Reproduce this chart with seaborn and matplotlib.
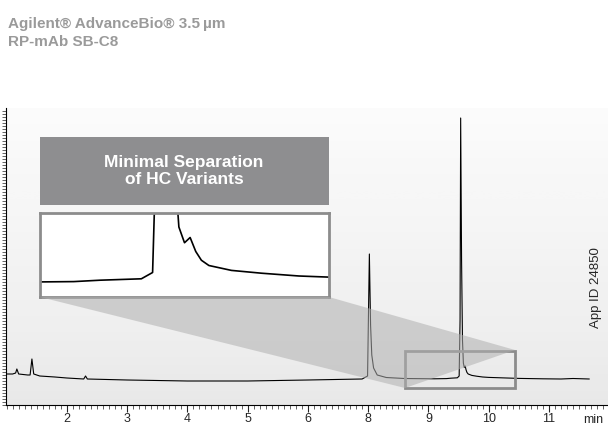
import numpy as np
import matplotlib
matplotlib.use("Agg")
import matplotlib.pyplot as plt
import seaborn as sns
import pandas as pd
from matplotlib.patches import Rectangle, Polygon

sns.set_style("white")
plt.rcParams['font.family'] = ['Liberation Sans', 'DejaVu Sans']

time = [1.0, 1.1, 1.15, 1.17, 1.2, 1.35, 1.39, 1.42, 1.45, 1.55, 1.8, 2.0, 2.28, 2.31, 2.34, 3.0, 4.0,
        5.0, 6.0, 6.9, 6.99, 7.02, 7.04, 7.06, 7.09, 7.15, 7.3, 7.6, 8.1, 8.3, 8.37, 8.48, 8.51, 8.525,
        8.535, 8.55, 8.565, 8.58, 8.595, 8.61, 8.625, 8.64, 8.66, 8.72, 8.8, 8.9, 9.0, 9.2, 9.5,
        9.9, 10.2, 10.4, 10.67]
signal = [6, 6, 7, 11, 6, 5, 5, 21, 6, 4, 3, 2, 1, 4, 1, 0, -1,
          -1, 0, 1, 4, 126, 55, 25, 12, 5, 2.5, 1.5, 1.2, 1.4, 1.8, 2.2, 4, 60,
          262, 120, 40, 17, 12.5, 14, 10, 7.5, 6, 4.6, 3.8, 3.0, 2.6, 2.2, 1.6,
          1.2, 1, 1.5, 1]
df = pd.DataFrame({"time": time, "signal": signal})
tick_pos = [2, 3, 4, 5, 6, 7, 8, 9, 10]
tick_labels = ['2', '3', '4', '5', '6', '8', '9', '10', '11']

fig = plt.figure(figsize=(6.08, 4.33), dpi=100)
W, H = 608, 433
ax = fig.add_axes([6/W, 1-405/H, 602/W, (405-108)/H])
xlim = (0.99, 10.98); ylim = (-25, 272)
grad = np.linspace(1, 0, 256).reshape(-1, 1)
ax.imshow(grad, extent=[*xlim, *ylim], aspect='auto', cmap='Greys', vmin=-0.2, vmax=7, origin='lower', zorder=0)
sns.lineplot(data=df, x="time", y="signal", ax=ax, color='black', lw=0.8, zorder=3)
ax.set_xlim(*xlim); ax.set_ylim(*ylim)
ax.set_xlabel(''); ax.set_ylabel('')
for s in ['top', 'right']:
    ax.spines[s].set_visible(False)
for s in ['left', 'bottom']:
    ax.spines[s].set_color('black'); ax.spines[s].set_linewidth(0.8)
ax.set_xticks(tick_pos)
ax.set_xticklabels(tick_labels)
ax.set_xticks(np.arange(1.0, 11.0, 0.1), minor=True)
ax.set_yticks(np.arange(-25, 272, 3), minor=True)
ax.set_yticks([])
ax.tick_params(axis='x', which='major', length=5, width=0.8, labelsize=9, pad=1, direction='out', bottom=True)
ax.tick_params(axis='x', which='minor', length=3, width=0.5, bottom=True)
ax.tick_params(axis='y', which='minor', length=3, width=0.5, left=True)
fig.text(583/W, 1-420/H, 'min', fontsize=9, va='center')

ax.add_patch(Rectangle((7.61, -8), 1.82, 37, fill=False, ec='#8c8c8c', lw=2, zorder=4))
def f(px, py): return (px/W, 1-py/H)
fig.patches.append(Polygon([f(40, 297), f(329, 297), f(515, 350), f(405, 388)], closed=True,
                           transform=fig.transFigure, fc='#b0b0b0', ec='none', alpha=0.55, zorder=1))
fig.patches.append(Rectangle(f(40, 205), 289/W, 68/H, transform=fig.transFigure, fc='#8e8e90', ec='none'))
fig.text(184/W, 1-171/H, 'Minimal Separation\nof HC Variants', color='white', fontsize=12.5,
         fontweight='bold', ha='center', va='center', linespacing=1.15)
iax = fig.add_axes([40/W, 1-297/H, 289/W, 84/H])
sns.lineplot(data=df, x="time", y="signal", ax=iax, color='black', lw=1.2)
iax.set_xlim(8.21, 8.98); iax.set_ylim(-3, 21)
iax.set_xticks([]); iax.set_yticks([]); iax.set_xlabel(''); iax.set_ylabel('')
for s in iax.spines.values():
    s.set_color('#8c8c8c'); s.set_linewidth(2)

fig.text(8/W, 1-33/H, 'Agilent® AdvanceBio® 3.5\u2009µm\nRP-mAb SB-C8', color='#9a9a9a', fontsize=11,
         fontweight='bold', va='center', linespacing=1.3)
fig.text(596/W, 1-288/H, 'App ID 24850', rotation=90, fontsize=9.5, ha='center', va='center')
fig.savefig('out.png', dpi=100)
